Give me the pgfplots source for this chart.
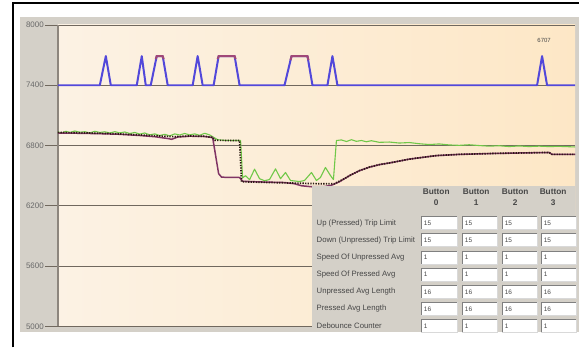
\documentclass[border=0pt]{standalone}
\usepackage{pgfplots}
\pgfplotsset{compat=1.18}
\usepackage{fontspec}
\setmainfont{Liberation Sans}
\definecolor{panel}{RGB}{212,208,200}
\definecolor{gridc}{RGB}{112,104,94}
\definecolor{bg1}{RGB}{252,242,228}
\definecolor{bg2}{RGB}{253,231,198}
\definecolor{blueline}{RGB}{82,72,218}
\definecolor{toppurple}{RGB}{160,72,120}
\definecolor{purp}{RGB}{128,52,100}
\definecolor{greenl}{RGB}{112,200,72}
\definecolor{dotc}{RGB}{45,28,20}
\definecolor{lbl}{RGB}{105,105,105}
\definecolor{txt}{RGB}{70,70,70}
\begin{document}
\begin{tikzpicture}[x=1bp,y=1bp]
\fill[white] (0,0) rectangle (580,348);
\fill[panel] (20,15) rectangle (580,331);
\draw[black, line width=2bp] (13,0) -- (13,345) -- (580,345);
\begin{axis}[at={(58bp,21bp)}, anchor=south west, width=518bp, height=302bp, scale only axis,
 xmin=58, xmax=576, ymin=5000, ymax=8000,
 axis x line=none, axis y line=left, axis line style={-, draw=gridc!80, line width=1.2bp},
 ytick={5000,5600,6200,6800,7400,8000}, yticklabels={5000,5600,6200,6800,7400,8000},
 tick align=outside, major tick length=13bp, ytick style={draw=gridc, line width=0.8bp},
 yticklabel style={font=\fontsize{8}{9}\selectfont, text=lbl, inner sep=1pt},
 ymajorgrids, grid style={draw=gridc, line width=0.8bp},
 axis background/.style={left color=bg1, right color=bg2},
 clip=true]
% button state line
\addplot[blueline, line width=2bp, line join=round] coordinates {
(58,7400) (100,7400) (106,7690) (111,7400) (137,7400) (142,7690) (146,7400)
(151,7400) (157,7690) (163,7690) (168,7400) (193,7400) (198,7690) (203,7400)
(214,7400) (219,7690) (235,7690) (240,7400) (285,7400) (292,7690) (308,7690)
(313,7400) (328,7400) (333,7690) (338,7400) (538,7400) (543,7690) (548,7400) (576,7400)};
\addplot[toppurple, line width=2bp, unbounded coords=jump] coordinates {
(156,7660) (157,7690) (163,7690) (164,7660) (164,nan)
(218,7660) (219,7690) (235,7690) (236,7660) (236,nan)
(291,7650) (292,7690) (308,7690) (309,7650)};
% raw signal
\addplot[greenl, line width=1.1bp, line join=round] coordinates {
(58,6935) (62,6925) (66,6942) (70,6930) (75,6945) (80,6932) (85,6938) (90,6926)
(95,6942) (100,6930) (105,6937) (110,6925) (115,6938) (120,6926) (125,6935)
(130,6920) (135,6930) (140,6914) (145,6925) (150,6906) (155,6916) (160,6900)
(165,6912) (170,6896) (175,6916) (180,6905) (185,6920) (190,6906) (195,6916)
(200,6902) (205,6922) (210,6906) (214,6882) (218,6858) (225,6852) (235,6850)
(241,6850) (243,6480) (246,6500) (250,6460) (255,6565) (260,6470) (265,6450)
(270,6462) (276,6568) (281,6470) (286,6532) (291,6452) (300,6442) (305,6452)
(312,6532) (317,6452) (321,6482) (326,6582) (331,6502) (334,6462) (337,6850)
(342,6856) (347,6840) (352,6858) (357,6842) (362,6850) (367,6838) (372,6848)
(380,6832) (390,6835) (400,6825) (410,6830) (420,6818) (430,6810) (440,6816)
(450,6806) (460,6802) (470,6808) (480,6800) (490,6794) (500,6798) (510,6790)
(520,6796) (530,6790) (540,6794) (550,6790) (560,6792) (576,6786)};
% average line
\addplot[purp, line width=1.5bp, line join=round] coordinates {
(58,6925) (80,6922) (100,6918) (120,6912) (140,6900) (155,6888) (168,6870)
(172,6862) (178,6885) (190,6893) (205,6890) (213,6880) (216,6700) (219,6520)
(222,6485) (240,6482) (243,6445) (260,6438) (285,6432) (295,6420) (302,6400)
(312,6390) (325,6392) (332,6405) (340,6440) (345,6470) (350,6500) (360,6550)
(370,6585) (380,6610) (393,6632) (410,6665) (437,6700) (460,6712) (493,6721)
(520,6726) (550,6731) (553,6712) (576,6712)};
% dotted threshold line
\addplot[dotc, line width=1.7bp, dash pattern=on 1.3bp off 1.3bp] coordinates {
(58,6930) (80,6927) (100,6922) (120,6915) (140,6905) (160,6895) (175,6888)
(190,6895) (205,6892) (213,6880) (215,6852) (240,6850) (242,6440) (260,6435)
(280,6430) (300,6425) (320,6420) (335,6420) (340,6445) (345,6470) (350,6500)
(360,6550) (370,6585) (380,6610) (393,6632) (410,6665) (437,6700) (460,6712)
(493,6721) (520,6726) (550,6731) (553,6712) (576,6712)};
\node[font=\fontsize{6}{7}\selectfont, text=txt] at (axis cs:545,7850) {6707};
\end{axis}
% settings table
\fill[panel] (313,15) rectangle (576,162);
\foreach \cx/\n in {437/0, 477/1, 516/2, 554/3} {
  \node[font=\bfseries\fontsize{8.3}{9}\selectfont, text=txt, inner sep=0] at (\cx,156) {Button};
  \node[font=\bfseries\fontsize{8.3}{9}\selectfont, text=txt, inner sep=0] at (\cx,145) {\n};
}
\foreach [count=\i from 0] \lab/\v in {Up (Pressed) Trip Limit/15, Down (Unpressed) Trip Limit/15, Speed Of Unpressed Avg/1, Speed Of Pressed Avg/1, Unpressed Avg Length/16, Pressed Avg Length/16, Debounce Counter/1} {
  \pgfmathsetmacro\yt{348-217-17.2*\i}
  \pgfmathsetmacro\yb{\yt-13}
  \pgfmathsetmacro\yc{\yt-6.5}
  \node[anchor=west, font=\fontsize{7.8}{8.5}\selectfont, text=txt, inner sep=0] at (317,\yc) {\lab};
  \foreach \xa/\xb in {422/458,463/498,503/538,542/577} {
    \fill[white] (\xa,\yb) rectangle (\xb,\yt);
    \draw[gray, line width=0.9bp] (\xa,\yb) -- (\xa,\yt) -- (\xb,\yt);
    \draw[white!85!black, line width=0.6bp] (\xb,\yt) -- (\xb,\yb) -- (\xa,\yb);
    \node[anchor=west, font=\fontsize{6.5}{7}\selectfont, text=txt, inner sep=0] at (\xa+2.5,\yc) {\v};
  }
}
\end{tikzpicture}
\end{document}
